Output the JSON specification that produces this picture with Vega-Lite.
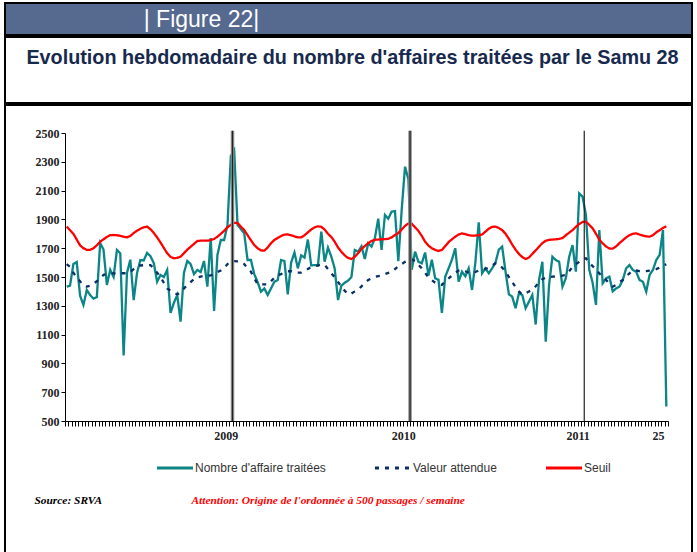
{
 "$schema": "https://vega.github.io/schema/vega-lite/v6.json",
 "padding": {"left": 4, "top": 2, "right": 6, "bottom": 1},
 "background": "white",
 "spacing": 0,
 "config": {"view": {"stroke": "black", "strokeWidth": 2}, "concat": {"spacing": 0}},
 "datasets": {
  "annees": [{"annee": 2009, "i": 49.5}, {"annee": 2010, "i": 102.5}, {"annee": 2011, "i": 154.5}],
  "hebdo": [
{"i":0,"nb":1433,"attendu":1590,"seuil":1850},{"i":1,"nb":1440,"attendu":1570,"seuil":1825},{"i":2,"nb":1590,"attendu":1530,"seuil":1800},{"i":3,"nb":1604,"attendu":1495,"seuil":1760},{"i":4,"nb":1370,"attendu":1470,"seuil":1720},{"i":5,"nb":1306,"attendu":1440,"seuil":1700},{"i":6,"nb":1410,"attendu":1433,"seuil":1688},{"i":7,"nb":1375,"attendu":1440,"seuil":1688},{"i":8,"nb":1350,"attendu":1455,"seuil":1700},{"i":9,"nb":1360,"attendu":1470,"seuil":1720},
{"i":10,"nb":1736,"attendu":1490,"seuil":1745},{"i":11,"nb":1690,"attendu":1515,"seuil":1762},{"i":12,"nb":1445,"attendu":1520,"seuil":1778},{"i":13,"nb":1550,"attendu":1525,"seuil":1790},{"i":14,"nb":1500,"attendu":1525,"seuil":1792},{"i":15,"nb":1688,"attendu":1526,"seuil":1790},{"i":16,"nb":1665,"attendu":1526,"seuil":1786},{"i":17,"nb":955,"attendu":1526,"seuil":1780},{"i":18,"nb":1528,"attendu":1526,"seuil":1775},{"i":19,"nb":1620,"attendu":1535,"seuil":1785},
{"i":20,"nb":1340,"attendu":1555,"seuil":1805},{"i":21,"nb":1528,"attendu":1575,"seuil":1822},{"i":22,"nb":1618,"attendu":1580,"seuil":1835},{"i":23,"nb":1615,"attendu":1582,"seuil":1845},{"i":24,"nb":1667,"attendu":1583,"seuil":1850},{"i":25,"nb":1645,"attendu":1583,"seuil":1832},{"i":26,"nb":1597,"attendu":1560,"seuil":1806},{"i":27,"nb":1467,"attendu":1530,"seuil":1775},{"i":28,"nb":1514,"attendu":1500,"seuil":1740},{"i":29,"nb":1500,"attendu":1460,"seuil":1702},
{"i":30,"nb":1549,"attendu":1420,"seuil":1665},{"i":31,"nb":1250,"attendu":1405,"seuil":1640},{"i":32,"nb":1320,"attendu":1390,"seuil":1630},{"i":33,"nb":1375,"attendu":1380,"seuil":1633},{"i":34,"nb":1190,"attendu":1390,"seuil":1641},{"i":35,"nb":1528,"attendu":1420,"seuil":1665},{"i":36,"nb":1611,"attendu":1445,"seuil":1690},{"i":37,"nb":1590,"attendu":1465,"seuil":1710},{"i":38,"nb":1520,"attendu":1485,"seuil":1730},{"i":39,"nb":1549,"attendu":1497,"seuil":1750},
{"i":40,"nb":1535,"attendu":1503,"seuil":1752},{"i":41,"nb":1611,"attendu":1507,"seuil":1752},{"i":42,"nb":1433,"attendu":1509,"seuil":1752},{"i":43,"nb":1771,"attendu":1512,"seuil":1757},{"i":44,"nb":1264,"attendu":1520,"seuil":1764},{"i":45,"nb":1653,"attendu":1535,"seuil":1780},{"i":46,"nb":1757,"attendu":1545,"seuil":1800},{"i":47,"nb":1757,"attendu":1560,"seuil":1820},{"i":48,"nb":1860,"attendu":1590,"seuil":1845},{"i":49,"nb":2340,"attendu":1605,"seuil":1862},
{"i":50,"nb":2380,"attendu":1610,"seuil":1876},{"i":51,"nb":1861,"attendu":1608,"seuil":1875},{"i":52,"nb":1833,"attendu":1606,"seuil":1850},{"i":53,"nb":1803,"attendu":1590,"seuil":1826},{"i":54,"nb":1618,"attendu":1560,"seuil":1790},{"i":55,"nb":1618,"attendu":1537,"seuil":1755},{"i":56,"nb":1520,"attendu":1490,"seuil":1722},{"i":57,"nb":1465,"attendu":1450,"seuil":1700},{"i":58,"nb":1398,"attendu":1449,"seuil":1685},{"i":59,"nb":1421,"attendu":1449,"seuil":1683},
{"i":60,"nb":1375,"attendu":1449,"seuil":1705},{"i":61,"nb":1421,"attendu":1470,"seuil":1735},{"i":62,"nb":1467,"attendu":1495,"seuil":1757},{"i":63,"nb":1479,"attendu":1512,"seuil":1772},{"i":64,"nb":1618,"attendu":1520,"seuil":1785},{"i":65,"nb":1611,"attendu":1530,"seuil":1794},{"i":66,"nb":1380,"attendu":1540,"seuil":1796},{"i":67,"nb":1600,"attendu":1540,"seuil":1790},{"i":68,"nb":1670,"attendu":1535,"seuil":1782},{"i":69,"nb":1560,"attendu":1530,"seuil":1775},
{"i":70,"nb":1650,"attendu":1530,"seuil":1775},{"i":71,"nb":1635,"attendu":1540,"seuil":1790},{"i":72,"nb":1760,"attendu":1555,"seuil":1810},{"i":73,"nb":1580,"attendu":1570,"seuil":1830},{"i":74,"nb":1583,"attendu":1575,"seuil":1845},{"i":75,"nb":1580,"attendu":1580,"seuil":1852},{"i":76,"nb":1815,"attendu":1586,"seuil":1848},{"i":77,"nb":1606,"attendu":1585,"seuil":1830},{"i":78,"nb":1704,"attendu":1555,"seuil":1800},{"i":79,"nb":1641,"attendu":1525,"seuil":1778},
{"i":80,"nb":1560,"attendu":1500,"seuil":1745},{"i":81,"nb":1340,"attendu":1465,"seuil":1705},{"i":82,"nb":1440,"attendu":1435,"seuil":1675},{"i":83,"nb":1460,"attendu":1405,"seuil":1650},{"i":84,"nb":1475,"attendu":1380,"seuil":1632},{"i":85,"nb":1500,"attendu":1385,"seuil":1625},{"i":86,"nb":1688,"attendu":1400,"seuil":1640},{"i":87,"nb":1676,"attendu":1412,"seuil":1665},{"i":88,"nb":1713,"attendu":1435,"seuil":1695},{"i":89,"nb":1625,"attendu":1460,"seuil":1715},
{"i":90,"nb":1734,"attendu":1479,"seuil":1735},{"i":91,"nb":1711,"attendu":1490,"seuil":1750},{"i":92,"nb":1770,"attendu":1500,"seuil":1758},{"i":93,"nb":1905,"attendu":1506,"seuil":1760},{"i":94,"nb":1688,"attendu":1510,"seuil":1762},{"i":95,"nb":1931,"attendu":1520,"seuil":1763},{"i":96,"nb":1905,"attendu":1528,"seuil":1765},{"i":97,"nb":1954,"attendu":1535,"seuil":1775},{"i":98,"nb":1958,"attendu":1555,"seuil":1792},{"i":99,"nb":1610,"attendu":1575,"seuil":1805},
{"i":100,"nb":1965,"attendu":1590,"seuil":1830},{"i":101,"nb":2266,"attendu":1605,"seuil":1855},{"i":102,"nb":2180,"attendu":1615,"seuil":1872},{"i":103,"nb":1550,"attendu":1622,"seuil":1870},{"i":104,"nb":1676,"attendu":1610,"seuil":1845},{"i":105,"nb":1606,"attendu":1585,"seuil":1820},{"i":106,"nb":1595,"attendu":1560,"seuil":1785},{"i":107,"nb":1670,"attendu":1530,"seuil":1745},{"i":108,"nb":1510,"attendu":1495,"seuil":1718},{"i":109,"nb":1620,"attendu":1478,"seuil":1700},
{"i":110,"nb":1491,"attendu":1460,"seuil":1688},{"i":111,"nb":1480,"attendu":1450,"seuil":1681},{"i":112,"nb":1250,"attendu":1445,"seuil":1688},{"i":113,"nb":1502,"attendu":1470,"seuil":1715},{"i":114,"nb":1560,"attendu":1490,"seuil":1742},{"i":115,"nb":1620,"attendu":1510,"seuil":1762},{"i":116,"nb":1700,"attendu":1530,"seuil":1780},{"i":117,"nb":1467,"attendu":1545,"seuil":1795},{"i":118,"nb":1537,"attendu":1550,"seuil":1803},{"i":119,"nb":1505,"attendu":1540,"seuil":1798},
{"i":120,"nb":1560,"attendu":1530,"seuil":1790},{"i":121,"nb":1410,"attendu":1526,"seuil":1787},{"i":122,"nb":1600,"attendu":1535,"seuil":1788},{"i":123,"nb":1880,"attendu":1545,"seuil":1790},{"i":124,"nb":1526,"attendu":1555,"seuil":1795},{"i":125,"nb":1560,"attendu":1556,"seuil":1815},{"i":126,"nb":1526,"attendu":1565,"seuil":1835},{"i":127,"nb":1560,"attendu":1580,"seuil":1848},{"i":128,"nb":1600,"attendu":1595,"seuil":1850},{"i":129,"nb":1690,"attendu":1590,"seuil":1840},
{"i":130,"nb":1711,"attendu":1565,"seuil":1826},{"i":131,"nb":1537,"attendu":1537,"seuil":1800},{"i":132,"nb":1380,"attendu":1500,"seuil":1765},{"i":133,"nb":1363,"attendu":1465,"seuil":1725},{"i":134,"nb":1283,"attendu":1430,"seuil":1690},{"i":135,"nb":1387,"attendu":1400,"seuil":1660},{"i":136,"nb":1375,"attendu":1378,"seuil":1638},{"i":137,"nb":1283,"attendu":1385,"seuil":1625},{"i":138,"nb":1329,"attendu":1400,"seuil":1635},{"i":139,"nb":1375,"attendu":1410,"seuil":1660},
{"i":140,"nb":1170,"attendu":1435,"seuil":1685},{"i":141,"nb":1479,"attendu":1465,"seuil":1710},{"i":142,"nb":1606,"attendu":1485,"seuil":1735},{"i":143,"nb":1050,"attendu":1495,"seuil":1752},{"i":144,"nb":1445,"attendu":1500,"seuil":1758},{"i":145,"nb":1641,"attendu":1502,"seuil":1760},{"i":146,"nb":1618,"attendu":1504,"seuil":1762},{"i":147,"nb":1606,"attendu":1507,"seuil":1764},{"i":148,"nb":1433,"attendu":1510,"seuil":1770},{"i":149,"nb":1491,"attendu":1514,"seuil":1790},
{"i":150,"nb":1640,"attendu":1540,"seuil":1808},{"i":151,"nb":1722,"attendu":1570,"seuil":1825},{"i":152,"nb":1537,"attendu":1590,"seuil":1848},{"i":153,"nb":2081,"attendu":1605,"seuil":1868},{"i":154,"nb":2058,"attendu":1625,"seuil":1882},{"i":155,"nb":1931,"attendu":1630,"seuil":1884},{"i":156,"nb":1550,"attendu":1600,"seuil":1862},{"i":157,"nb":1460,"attendu":1575,"seuil":1838},{"i":158,"nb":1306,"attendu":1555,"seuil":1800},{"i":159,"nb":1826,"attendu":1525,"seuil":1760},
{"i":160,"nb":1456,"attendu":1500,"seuil":1734},{"i":161,"nb":1491,"attendu":1480,"seuil":1712},{"i":162,"nb":1502,"attendu":1455,"seuil":1698},{"i":163,"nb":1400,"attendu":1433,"seuil":1697},{"i":164,"nb":1421,"attendu":1445,"seuil":1712},{"i":165,"nb":1433,"attendu":1465,"seuil":1735},{"i":166,"nb":1479,"attendu":1479,"seuil":1755},{"i":167,"nb":1560,"attendu":1505,"seuil":1775},{"i":168,"nb":1583,"attendu":1525,"seuil":1790},{"i":169,"nb":1549,"attendu":1545,"seuil":1800},
{"i":170,"nb":1537,"attendu":1545,"seuil":1803},{"i":171,"nb":1479,"attendu":1540,"seuil":1795},{"i":172,"nb":1467,"attendu":1537,"seuil":1788},{"i":173,"nb":1398,"attendu":1540,"seuil":1782},{"i":174,"nb":1514,"attendu":1545,"seuil":1780},{"i":175,"nb":1549,"attendu":1549,"seuil":1790},{"i":176,"nb":1618,"attendu":1555,"seuil":1810},{"i":177,"nb":1653,"attendu":1565,"seuil":1825},{"i":178,"nb":1826,"attendu":1580,"seuil":1840},{"i":179,"nb":600,"attendu":1588,"seuil":1852}
  ]
 },
 "vconcat": [
  {
   "width": 687, "height": 32,
   "view": {"fill": "#56698F", "stroke": "black", "strokeWidth": 2},
   "data": {"values": [{"label": "| Figure 22|"}]},
   "mark": {"type": "text", "font": "Liberation Sans", "fontSize": 23, "color": "white", "dx": -147, "dy": 1, "baseline": "middle"},
   "encoding": {"text": {"field": "label"}}
  },
  {
   "width": 687, "height": 66,
   "view": {"fill": "white", "stroke": "black", "strokeWidth": 2},
   "data": {"values": [{"label": "Evolution hebdomadaire du nombre d'affaires traitées par le Samu 28"}]},
   "mark": {"type": "text", "font": "Liberation Sans", "fontSize": 19.8, "fontWeight": "bold", "color": "#172A4E", "dx": 4, "dy": -12, "baseline": "middle"},
   "encoding": {"text": {"field": "label"}}
  },
  {
   "width": 687, "height": 451,
   "view": {"fill": "white", "stroke": "black", "strokeWidth": 2},
   "encoding": {
    "x": {"field": "i", "type": "quantitative", "scale": {"domain": [-0.5, 179.5], "range": [60, 663], "nice": false, "zero": false},
     "axis": {"orient": "bottom", "offset": -135,
      "values": [-0.5,0.5,1.5,2.5,3.5,4.5,5.5,6.5,7.5,8.5,9.5,10.5,11.5,12.5,13.5,14.5,15.5,16.5,17.5,18.5,19.5,20.5,21.5,22.5,23.5,24.5,25.5,26.5,27.5,28.5,29.5,30.5,31.5,32.5,33.5,34.5,35.5,36.5,37.5,38.5,39.5,40.5,41.5,42.5,43.5,44.5,45.5,46.5,47.5,48.5,49.5,50.5,51.5,52.5,53.5,54.5,55.5,56.5,57.5,58.5,59.5,60.5,61.5,62.5,63.5,64.5,65.5,66.5,67.5,68.5,69.5,70.5,71.5,72.5,73.5,74.5,75.5,76.5,77.5,78.5,79.5,80.5,81.5,82.5,83.5,84.5,85.5,86.5,87.5,88.5,89.5,90.5,91.5,92.5,93.5,94.5,95.5,96.5,97.5,98.5,99.5,100.5,101.5,102.5,103.5,104.5,105.5,106.5,107.5,108.5,109.5,110.5,111.5,112.5,113.5,114.5,115.5,116.5,117.5,118.5,119.5,120.5,121.5,122.5,123.5,124.5,125.5,126.5,127.5,128.5,129.5,130.5,131.5,132.5,133.5,134.5,135.5,136.5,137.5,138.5,139.5,140.5,141.5,142.5,143.5,144.5,145.5,146.5,147.5,148.5,149.5,150.5,151.5,152.5,153.5,154.5,155.5,156.5,157.5,158.5,159.5,160.5,161.5,162.5,163.5,164.5,165.5,166.5,167.5,168.5,169.5,170.5,171.5,172.5,173.5,174.5,175.5,176.5,177.5,178.5,179.5],
      "labelExpr": "datum.value == 47.5 ? '2009' : datum.value == 100.5 ? '2010' : datum.value == 152.5 ? '2011' : datum.value == 176.5 ? '25' : ''",
      "labelOverlap": false, "labelBound": false, "labelFlush": false,
      "labelFont": "Liberation Serif", "labelFontWeight": "bold", "labelFontSize": 12, "labelColor": "#222222", "labelPadding": 4,
      "tickSize": 5, "tickColor": "black", "tickWidth": 1, "domainColor": "black", "domainWidth": 1, "grid": false,
      "title": "Source: SRVA", "titleX": 29, "titleY": 82, "titleAlign": "left", "titleAnchor": "start", "titleBaseline": "alphabetic",
      "titleFont": "Liberation Serif", "titleFontStyle": "italic", "titleFontWeight": "bold", "titleFontSize": 11.4, "titleColor": "black"}}
   },
   "layer": [
    {
     "data": {"name": "hebdo"},
     "transform": [{"fold": ["nb", "attendu", "seuil"], "as": ["serie", "valeur"]}],
     "mark": {"type": "line", "strokeWidth": 2.3},
     "encoding": {
      "y": {"field": "valeur", "type": "quantitative", "scale": {"domain": [500, 2500], "range": [316, 28], "zero": false, "nice": false},
       "axis": {"orient": "left", "offset": -60, "values": [500,700,900,1100,1300,1500,1700,1900,2100,2300,2500], "format": "d",
        "labelFont": "Liberation Serif", "labelFontWeight": "bold", "labelFontSize": 12, "labelColor": "#222222", "labelPadding": 2,
        "tickSize": 4, "tickColor": "black", "domainColor": "black", "domainWidth": 1, "grid": false,
        "title": "Attention: Origine de l'ordonnée à 500 passages / semaine", "titleAngle": 0, "titleX": 126, "titleY": 398,
        "titleAlign": "left", "titleAnchor": "start", "titleBaseline": "alphabetic",
        "titleFont": "Liberation Serif", "titleFontStyle": "italic", "titleFontWeight": "bold", "titleFontSize": 11.4, "titleColor": "#FF0000"}},
      "color": {"field": "serie", "type": "nominal",
       "scale": {"domain": ["nb", "attendu", "seuil"], "range": ["#0B8585", "#0A2F66", "#FF0000"]},
       "legend": {"orient": "none", "legendX": 150, "legendY": 445, "direction": "horizontal", "title": null,
        "symbolType": "stroke", "symbolSize": 1300, "symbolStrokeWidth": 3,
        "labelFont": "Liberation Sans", "labelFontSize": 12, "labelColor": "#333333", "labelOffset": 0, "labelLimit": 300,
        "columnPadding": 42,
        "labelExpr": "datum.label == 'nb' ? \"Nombre d'affaire traitées\" : datum.label == 'attendu' ? 'Valeur attendue' : 'Seuil'"}},
      "strokeDash": {"field": "serie", "type": "nominal",
       "scale": {"domain": ["nb", "attendu", "seuil"], "range": [[1, 0], [4, 6], [1, 0]]},
       "legend": {"orient": "none", "legendX": 150, "legendY": 445, "direction": "horizontal", "title": null,
        "symbolType": "stroke", "symbolSize": 1300, "symbolStrokeWidth": 3,
        "labelFont": "Liberation Sans", "labelFontSize": 12, "labelColor": "#333333", "labelOffset": 0, "labelLimit": 300,
        "columnPadding": 42,
        "labelExpr": "datum.label == 'nb' ? \"Nombre d'affaire traitées\" : datum.label == 'attendu' ? 'Valeur attendue' : 'Seuil'"}}
     }
    },
    {
     "data": {"name": "annees"},
     "transform": [{"filter": "datum.annee != 2011"}],
     "mark": {"type": "rule", "color": "#8c8c8c", "strokeWidth": 3.5},
     "encoding": {
      "y": {"datum": 2515, "type": "quantitative"},
      "y2": {"datum": 500}
     }
    },
    {
     "data": {"name": "annees"},
     "mark": {"type": "rule", "color": "#222222", "strokeWidth": 1.2},
     "encoding": {
      "y": {"datum": 2515, "type": "quantitative"},
      "y2": {"datum": 500}
     }
    }
   ]
  }
 ]
}
